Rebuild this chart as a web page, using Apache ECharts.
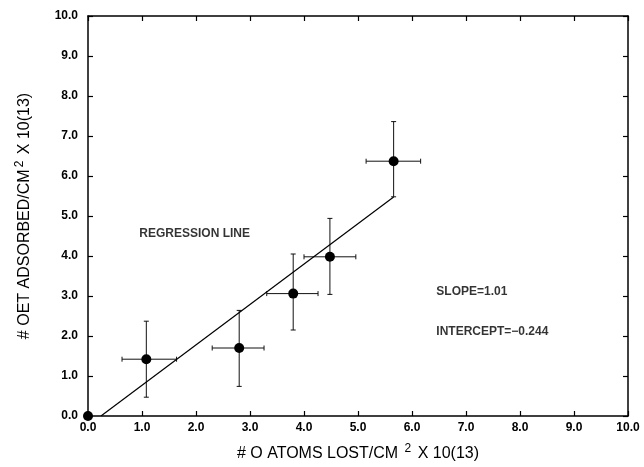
<!DOCTYPE html>
<html>
<head>
<meta charset="utf-8">
<script src="https://cdn.jsdelivr.net/npm/echarts@6/dist/echarts.min.js"></script>
<style>
  html, body { margin: 0; padding: 0; background: #fff; }
  #chart { width: 644px; height: 467px; }
</style>
</head>
<body>
<div id="chart"></div>
<script>
// measured points (x = O atoms lost, y = OET adsorbed, both x 10^13 /cm2)
const xs  = [0, 1.08, 2.80, 3.80, 4.48, 5.66];
const ys  = [0, 1.42, 1.70, 3.06, 3.98, 6.37];
// error bar ends
const xLo = [null, 0.63, 2.30, 3.31, 4.00, 5.15];
const xHi = [null, 1.64, 3.26, 4.26, 4.96, 6.16];
const yLo = [null, 0.47, 0.74, 2.15, 3.04, 5.48];
const yHi = [null, 2.37, 2.64, 4.05, 4.94, 7.36];

// regression line
const slope = 1.01;
const intercept = -0.244;
const fitX = [0.24, 5.66];

// annotation texts, placed in data coords
const notes = [
  { text: 'REGRESSION LINE', x: 0.95, y: 4.55 },
  { text: 'SLOPE=1.01', x: 6.45, y: 3.1 },
  { text: 'INTERCEPT=\u22120.244', x: 6.45, y: 2.1 }
];

const font = 'Liberation Sans';
const ink = '#000';

function baseAxis(pos, showLabel) {
  return {
    type: 'value',
    position: pos,
    min: 0, max: 10, interval: 1,
    axisLine: { show: true, onZero: false, lineStyle: { color: ink, width: 1.5 } },
    axisTick: { show: true, inside: true, length: 5, lineStyle: { color: ink, width: 1.2 } },
    axisLabel: {
      show: showLabel,
      color: ink, fontFamily: font, fontWeight: 'bold', fontSize: 12,
      formatter: v => v.toFixed(1)
    },
    splitLine: { show: false }
  };
}

const titleRich = {
  t: { fontFamily: font, fontSize: 16, color: ink },
  sup: { fontFamily: font, fontSize: 12, color: ink, padding: [0, 2, 10, 2] }
};

const xBottom = Object.assign(baseAxis('bottom', true), {
  name: '{t|# O ATOMS LOST/CM }{sup|2}{t| X 10(13)}',
  nameLocation: 'middle', nameGap: 27,
  nameTextStyle: { rich: titleRich },
  axisLabel: Object.assign(baseAxis('bottom', true).axisLabel, { margin: 6 })
});
const yLeft = Object.assign(baseAxis('left', true), {
  name: '{t|# OET ADSORBED/CM}{sup|2}{t| X 10(13)}',
  nameLocation: 'middle', nameGap: 52, nameRotate: 90,
  nameTextStyle: { rich: titleRich },
  axisLabel: Object.assign(baseAxis('left', true).axisLabel, { margin: 10 })
});

const chart = echarts.init(document.getElementById('chart'));

chart.setOption({
  backgroundColor: '#fff',
  animation: false,
  grid: { left: 88, right: 16, top: 16, bottom: 46 },
  xAxis: [xBottom, baseAxis('top', false)],
  yAxis: [yLeft, baseAxis('right', false)],
  series: [
    {
      type: 'custom',
      name: 'error bars',
      data: xs.map((x, i) => [x, ys[i], xLo[i], xHi[i], yLo[i], yHi[i]]).filter(d => d[2] != null),
      renderItem: function (params, api) {
        const x = api.value(0), y = api.value(1);
        const l = api.coord([api.value(2), y]);
        const r = api.coord([api.value(3), y]);
        const b = api.coord([x, api.value(4)]);
        const t = api.coord([x, api.value(5)]);
        const style = { stroke: '#111', lineWidth: 1 };
        const cap = 2.5;
        const seg = (x1, y1, x2, y2) => ({
          type: 'line', shape: { x1, y1, x2, y2 }, style: style
        });
        return {
          type: 'group',
          children: [
            seg(l[0], l[1], r[0], r[1]),
            seg(l[0], l[1] - cap, l[0], l[1] + cap),
            seg(r[0], r[1] - cap, r[0], r[1] + cap),
            seg(b[0], b[1], t[0], t[1]),
            seg(b[0] - cap, b[1], b[0] + cap, b[1]),
            seg(t[0] - cap, t[1], t[0] + cap, t[1])
          ]
        };
      },
      z: 2
    },
    {
      type: 'line',
      name: 'regression',
      data: fitX.map(x => [x, slope * x + intercept]),
      showSymbol: false,
      lineStyle: { color: ink, width: 1.2 },
      z: 3
    },
    {
      type: 'scatter',
      name: 'points',
      data: xs.map((x, i) => [x, ys[i]]),
      symbolSize: 10,
      itemStyle: { color: '#000', opacity: 1 },
      clip: false,
      z: 4
    },
    {
      type: 'scatter',
      name: 'notes',
      data: notes.map(n => ({ value: [n.x, n.y], name: n.text })),
      symbolSize: 0,
      silent: true,
      label: {
        show: true, position: 'right', distance: 0,
        formatter: p => p.name,
        fontFamily: font, fontWeight: 'bold', fontSize: 12, color: ink
      }
    }
  ]
});
</script>
</body>
</html>
